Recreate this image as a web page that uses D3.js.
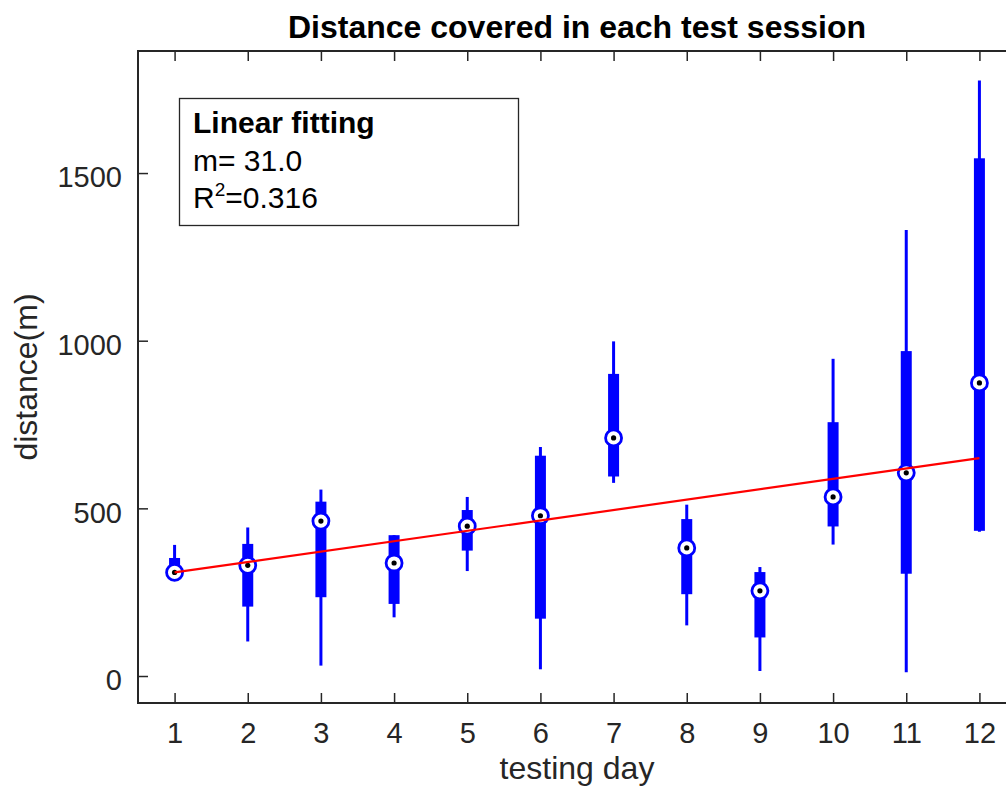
<!DOCTYPE html>
<html>
<head>
<meta charset="utf-8">
<script src="https://cdn.jsdelivr.net/npm/d3@7"></script>
<style>
  html, body { margin: 0; padding: 0; background: #fff; }
  svg { display: block; }
  text { font-family: "Liberation Sans", Arial, Helvetica, sans-serif; }
</style>
</head>
<body>
<svg id="chart" width="1006" height="790"></svg>
<script>
// ---- data ----
const days        = [1, 2, 3, 4, 5, 6, 7, 8, 9, 10, 11, 12];
const whiskerLow  = [300, 103, 31, 175, 313, 20, 576, 151, 15, 392, 11, 430];
const q1          = [300, 207, 235, 215, 374, 171, 595, 244, 115, 446, 305, 433];
const medians     = [309, 330, 462, 337, 447, 478, 710, 382, 254, 534, 606, 874];
const q3          = [352, 394, 520, 420, 495, 657, 901, 468, 310, 757, 969, 1544];
const whiskerHigh = [391, 443, 556, 420, 534, 683, 998, 511, 325, 946, 1330, 1776];
const yTicks      = [0, 500, 1000, 1500];
const fitSlope     = 31.0;
const fitIntercept = 278;
const fitR2        = 0.316;

const titleText  = "Distance covered in each test session";
const xLabelText = "testing day";
const yLabelText = "distance(m)";

// ---- layout ----
const L = 138, R = 1016, T = 51, B = 703;
const svg = d3.select("#chart");

const x = d3.scaleLinear().domain([0.5, 12.5]).range([L, R]);
const y = d3.scaleLinear().domain([-80.5, 1864]).range([B, T]);

const axisColor = "#262626";
const blue = "#0000ff";

svg.append("rect").attr("x", L).attr("y", T).attr("width", R - L).attr("height", B - T)
  .attr("fill", "#fff");

// ---- boxes ----
const data = days.map((d, i) => ({
  day: d, lo: whiskerLow[i], q1: q1[i], med: medians[i], q3: q3[i], hi: whiskerHigh[i]
}));

const g = svg.append("g");
g.selectAll("line.whisker").data(data).join("line")
  .attr("class", "whisker")
  .attr("x1", d => x(d.day)).attr("x2", d => x(d.day))
  .attr("y1", d => y(d.lo)).attr("y2", d => y(d.hi))
  .attr("stroke", blue).attr("stroke-width", 3);

g.selectAll("rect.box").data(data).join("rect")
  .attr("class", "box")
  .attr("x", d => x(d.day) - 5.5).attr("width", 11)
  .attr("y", d => y(d.q3)).attr("height", d => Math.max(0, y(d.q1) - y(d.q3)))
  .attr("fill", blue);

g.selectAll("circle.medo").data(data).join("circle")
  .attr("class", "medo")
  .attr("cx", d => x(d.day)).attr("cy", d => y(d.med)).attr("r", 8)
  .attr("fill", "#fff").attr("stroke", blue).attr("stroke-width", 2.8);

// ---- linear fit ----
const fitLine = d3.line().x(d => x(d)).y(d => y(fitIntercept + fitSlope * d));
svg.append("path").datum([days[0], days[days.length - 1]])
  .attr("d", fitLine).attr("fill", "none")
  .attr("stroke", "#ff0000").attr("stroke-width", 2.2);

g.selectAll("circle.medi").data(data).join("circle")
  .attr("class", "medi")
  .attr("cx", d => x(d.day)).attr("cy", d => y(d.med)).attr("r", 2.6)
  .attr("fill", "#000");

// ---- axes ----
const tickFont = 29;
const xAxis = d3.axisBottom(x).tickValues(days).tickFormat(d3.format("d"))
  .tickSizeInner(-10).tickSizeOuter(0).tickPadding(19);
const xg = svg.append("g").attr("transform", `translate(0,${B})`).call(xAxis);

const xTop = d3.axisTop(x).tickValues(days).tickFormat("").tickSizeInner(-10).tickSizeOuter(0);
const xtg = svg.append("g").attr("transform", `translate(0,${T})`).call(xTop);

const yAxis = d3.axisLeft(y).tickValues(yTicks).tickFormat(d3.format("d"))
  .tickSizeInner(-10).tickSizeOuter(0).tickPadding(16);
const yg = svg.append("g").attr("transform", `translate(${L},0)`).call(yAxis);

const yRight = d3.axisRight(y).tickValues(yTicks).tickFormat("").tickSizeInner(-10).tickSizeOuter(0);
const yrg = svg.append("g").attr("transform", `translate(${R},0)`).call(yRight);

[xg, xtg, yg, yrg].forEach(a => {
  a.select(".domain").remove();
  a.selectAll(".tick line").attr("stroke", axisColor).attr("stroke-width", 1.5);
  a.selectAll(".tick text").attr("fill", axisColor)
    .style("font-size", tickFont + "px")
    .style("font-family", '"Liberation Sans", Arial, sans-serif');
});
yg.selectAll(".tick text").attr("dy", "0.48em");

// frame
svg.append("path")
  .attr("d", `M${L},${T}H${R}V${B}H${L}Z`)
  .attr("fill", "none").attr("stroke", axisColor).attr("stroke-width", 2);

// ---- labels ----
svg.append("text").attr("x", (L + R) / 2).attr("y", 38)
  .attr("text-anchor", "middle").attr("font-weight", "bold")
  .style("font-size", "32px").attr("fill", "#000").text(titleText);

svg.append("text").attr("x", (L + R) / 2).attr("y", 779)
  .attr("text-anchor", "middle").style("font-size", "32px")
  .attr("fill", axisColor).text(xLabelText);

svg.append("text").attr("transform", `translate(37,${(T + B) / 2}) rotate(-90)`)
  .attr("text-anchor", "middle").style("font-size", "32px")
  .attr("fill", axisColor).text(yLabelText);

// ---- annotation box ----
const ann = svg.append("g");
ann.append("rect").attr("x", 179.5).attr("y", 98.5).attr("width", 339).attr("height", 127)
  .attr("fill", "#fff").attr("stroke", axisColor).attr("stroke-width", 1.3);
ann.append("text").attr("x", 193).attr("y", 133).attr("font-weight", "bold")
  .style("font-size", "30px").attr("fill", "#000").text("Linear fitting");
ann.append("text").attr("x", 193).attr("y", 171)
  .style("font-size", "30px").attr("fill", "#000").text("m= " + fitSlope.toFixed(1));
const r2 = ann.append("text").attr("x", 193).attr("y", 208)
  .style("font-size", "30px").attr("fill", "#000");
r2.append("tspan").text("R");
r2.append("tspan").attr("dy", -12).style("font-size", "19px").text("2");
r2.append("tspan").attr("dy", 12).text("=" + fitR2.toFixed(3));
</script>
</body>
</html>
